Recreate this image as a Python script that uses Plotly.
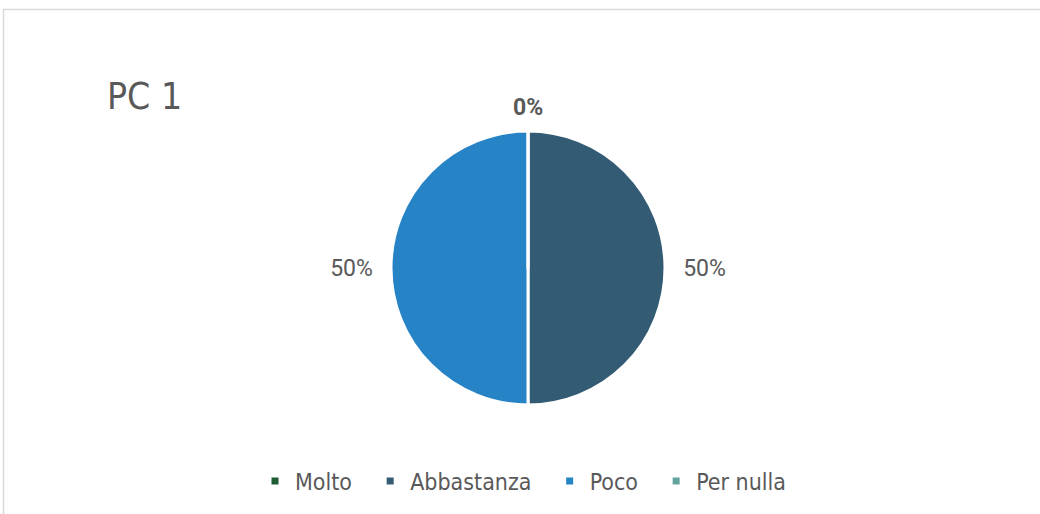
import plotly.graph_objects as go

categories = ["Molto", "Abbastanza", "Poco", "Per nulla"]
values = [0, 50, 50, 0]
colors = ["#1f5c33", "#335b74", "#2683c6", "#62a39f"]
title_text = "PC 1"

W, H = 1040, 514
cx, cy, r = 528, 268, 137
GRAY = "#595959"
LABEL_FONT = "Roboto, DejaVu Sans Condensed, sans-serif"
TEXT_FONT = "DejaVu Sans Condensed, DejaVu Sans, sans-serif"

total = sum(values)
# non-zero slices are labelled by the pie itself; zero slices share one label at the top
gap = "\u00a0" * 2
templates = [gap + "%{percent:.0%}" + gap if v > 0 else "" for v in values]
zero_pct = [v / total for v in values if v == 0]

fig = go.Figure()
fig.add_trace(go.Pie(
    labels=categories,
    values=values,
    sort=False,
    direction="clockwise",
    rotation=0,
    marker=dict(colors=colors, line=dict(color="white", width=3)),
    texttemplate=templates,
    textposition="outside",
    textfont=dict(family=LABEL_FONT, size=23, color=GRAY),
    hoverinfo="label+percent",
    domain=dict(x=[(cx - r) / W, (cx + r) / W], y=[(H - cy - r) / H, (H - cy + r) / H]),
    showlegend=False,
    automargin=False,
))

# legend entries (small square swatches)
pad = "\u00a0" * 2
for name, col in zip(categories, colors):
    fig.add_trace(go.Scatter(
        x=[None], y=[None], mode="markers", name=name + pad,
        marker=dict(symbol="square", size=7, color=col),
        showlegend=True, hoverinfo="skip",
    ))

annotations = [
    dict(text=title_text, x=105 / W, y=(H - 96) / H, xref="paper", yref="paper",
         xanchor="left", yanchor="middle", showarrow=False,
         font=dict(family=TEXT_FONT, size=37, color=GRAY)),
]
if zero_pct:
    annotations.append(dict(
        text="<b>%d%%</b>" % round(zero_pct[0] * 100), x=cx / W, y=(H - 107) / H,
        xref="paper", yref="paper", xanchor="center", yanchor="middle", showarrow=False,
        font=dict(family=LABEL_FONT, size=23, color=GRAY)))

fig.update_layout(
    width=W, height=H,
    margin=dict(l=0, r=0, t=0, b=0),
    paper_bgcolor="white",
    plot_bgcolor="white",
    font=dict(family=TEXT_FONT, color=GRAY),
    xaxis=dict(visible=False),
    yaxis=dict(visible=False),
    legend=dict(
        orientation="h", x=255 / W, xanchor="left", y=(H - 481) / H, yanchor="middle",
        font=dict(family=TEXT_FONT, size=23, color=GRAY), traceorder="normal",
        bgcolor="rgba(0,0,0,0)",
    ),
    annotations=annotations,
    shapes=[
        dict(type="line", xref="paper", yref="paper", x0=3 / W, x1=1, y0=(H - 9.5) / H, y1=(H - 9.5) / H,
             line=dict(color="#d9d9d9", width=1.5)),
        dict(type="line", xref="paper", yref="paper", x0=3.5 / W, x1=3.5 / W, y0=0, y1=(H - 9.5) / H,
             line=dict(color="#d9d9d9", width=1.5)),
    ],
)

fig.write_html("out.html", config={"displayModeBar": False},
               post_script="document.body.style.margin='0';document.body.style.padding='0';")
